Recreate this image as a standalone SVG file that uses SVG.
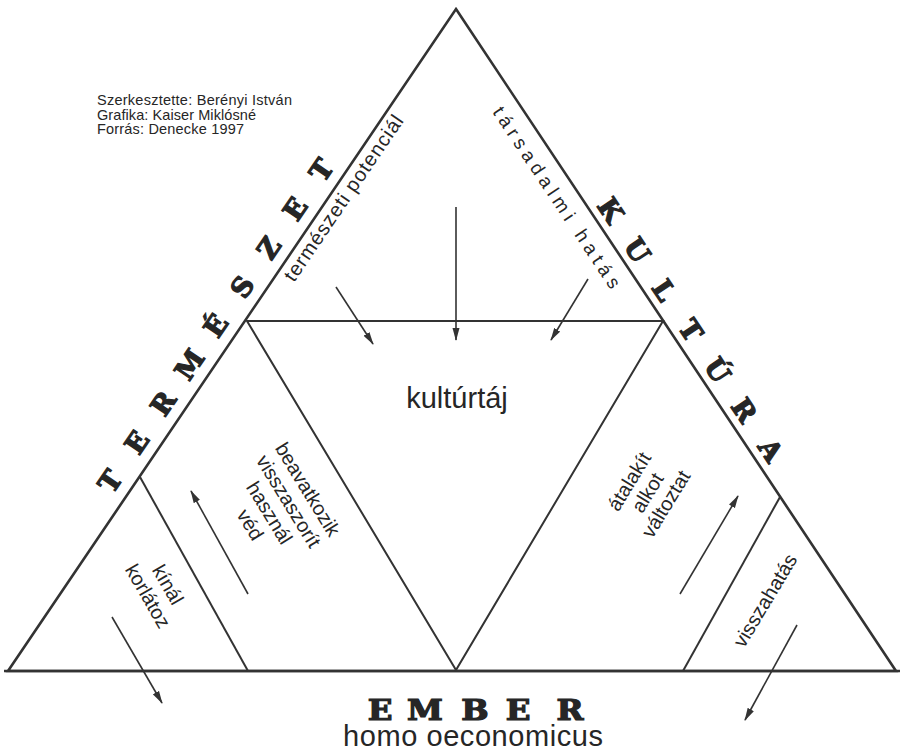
<svg xmlns="http://www.w3.org/2000/svg" width="902" height="753" viewBox="0 0 902 753">
<defs>
<marker id="ah" markerWidth="13" markerHeight="8" refX="12" refY="4" orient="auto" markerUnits="userSpaceOnUse"><path d="M0,0.5 L13,4 L0,7.5 Z" fill="#333"/></marker>
</defs>
<style>
.edge{fill:none;stroke:#333;stroke-width:2.6;stroke-linejoin:miter}
.inner{fill:none;stroke:#333;stroke-width:2}
.arr{fill:none;stroke:#333;stroke-width:1.6;marker-end:url(#ah)}
.big{font-family:"DejaVu Serif",serif;font-weight:bold;font-size:27px;fill:#262626;stroke:#262626;stroke-width:1.2;text-anchor:middle}
.lab{font-family:"Liberation Sans",Arial,sans-serif;fill:#262626}
.rot{font-size:20px;text-anchor:middle}
</style>
<rect width="902" height="753" fill="#fff"/>
<g id="frame">
<polygon class="edge" points="456,9 896,671 8,671"/>
<line class="edge" x1="4" y1="671" x2="900" y2="671"/>
</g>
<g id="inner-triangle">
<polygon class="inner" points="247,321 663,321 456,670"/>
<line class="inner" x1="140" y1="477" x2="248" y2="671"/>
<line class="inner" x1="780" y1="497" x2="683" y2="671"/>
</g>
<g id="connectors">
<line class="arr" x1="456" y1="207" x2="456" y2="340"/>
<line class="arr" x1="336" y1="287" x2="373" y2="344"/>
<line class="arr" x1="588" y1="279" x2="551" y2="340"/>
<line class="arr" x1="248" y1="594" x2="191" y2="491"/>
<line class="arr" x1="112" y1="617" x2="162" y2="703"/>
<line class="arr" x1="680" y1="594" x2="738" y2="496"/>
<line class="arr" x1="797" y1="625" x2="745" y2="720"/>
</g>
<g id="credits" class="lab" font-size="14.5">
<text x="97" y="105" textLength="195">Szerkesztette: Berényi István</text>
<text x="97" y="119.5" textLength="159">Grafika: Kaiser Miklósné</text>
<text x="97" y="134" textLength="147">Forrás: Denecke 1997</text>
</g>
<g id="termeszet" class="big">
<text transform="translate(110,481) rotate(-55.8)" y="10">T</text>
<text transform="translate(136.4,442.1) rotate(-55.8)" y="10">E</text>
<text transform="translate(162.8,403.2) rotate(-55.8)" y="10">R</text>
<text transform="translate(189.2,364.3) rotate(-55.8)" y="10">M</text>
<text transform="translate(215.6,325.4) rotate(-55.8)" y="10">É</text>
<text transform="translate(242,286.5) rotate(-55.8)" y="10">S</text>
<text transform="translate(268.4,247.6) rotate(-55.8)" y="10">Z</text>
<text transform="translate(294.8,208.7) rotate(-55.8)" y="10">E</text>
<text transform="translate(321.2,169.8) rotate(-55.8)" y="10">T</text>
</g>
<g id="kultura" class="big">
<text transform="translate(611,210) rotate(56.3)" y="10">K</text>
<text transform="translate(637.7,250) rotate(56.3)" y="10">U</text>
<text transform="translate(664.4,290) rotate(56.3)" y="10">L</text>
<text transform="translate(691.1,330) rotate(56.3)" y="10">T</text>
<text transform="translate(717.8,370) rotate(56.3)" y="10">Ú</text>
<text transform="translate(744.5,410) rotate(56.3)" y="10">R</text>
<text transform="translate(771.2,450) rotate(56.3)" y="10">A</text>
</g>
<g id="ember" class="big" font-size="24">
<text transform="translate(380,720) scale(1.2,1)">E</text>
<text transform="translate(425,720) scale(1.2,1)">M</text>
<text transform="translate(475,720) scale(1.2,1)">B</text>
<text transform="translate(518,720) scale(1.2,1)">E</text>
<text transform="translate(570,720) scale(1.2,1)">R</text>
</g>
<g id="homo" class="lab">
<text x="473" y="746" font-size="29" text-anchor="middle" textLength="260">homo oeconomicus</text>
</g>
<g id="kulturtaj" class="lab">
<text x="457" y="408" font-size="29" text-anchor="middle">kultúrtáj</text>
</g>
<g id="termeszeti-potencial" class="lab">
<text transform="translate(294,283) rotate(-55.8)" font-size="20" textLength="196">természeti potenciál</text>
</g>
<g id="tarsadalmi-hatas" class="lab">
<text transform="translate(492,112) rotate(56.3)" font-size="19" textLength="214">társadalmi hatás</text>
</g>
<g id="beavatkozik" class="lab rot" transform="translate(302,493) rotate(58.5)">
<text x="0" y="0">beavatkozik</text>
<text x="0" y="22.5">visszaszorít</text>
<text x="0" y="45">használ</text>
<text x="0" y="67.5">véd</text>
</g>
<g id="atalakit" class="lab rot" transform="translate(635,485) rotate(-58.5)">
<text x="0" y="0">átalakít</text>
<text x="0" y="21.5">alkot</text>
<text x="0" y="43">változtat</text>
</g>
<g id="kinal" class="lab rot" transform="translate(162,588) rotate(60)">
<text x="0" y="0">kínál</text>
<text x="0" y="23">korlátoz</text>
</g>
<g id="visszahatas" class="lab rot" transform="translate(771,604) rotate(-59)">
<text x="0" y="0">visszahatás</text>
</g>
</svg>
